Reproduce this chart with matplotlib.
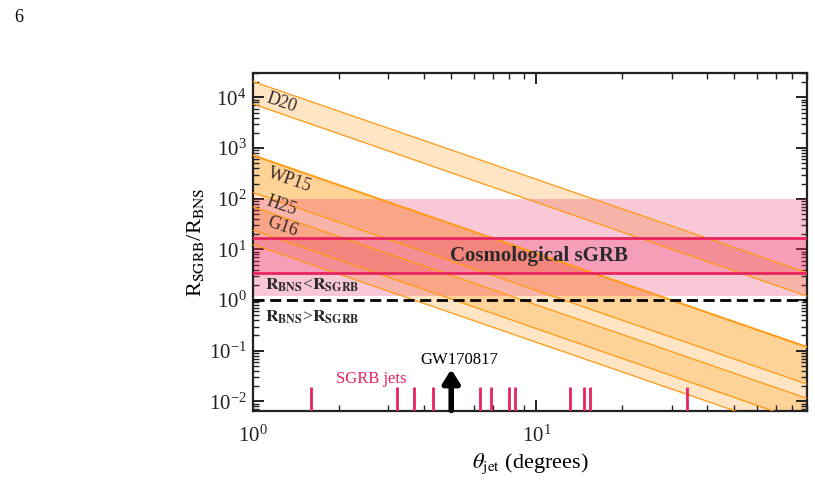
import numpy as np
import matplotlib
matplotlib.use("Agg")
import matplotlib.pyplot as plt
from matplotlib.ticker import LogLocator, NullFormatter, FixedLocator

plt.rcParams['font.family'] = ['Liberation Serif', 'DejaVu Serif']
plt.rcParams['mathtext.fontset'] = 'stix'
plt.rcParams['axes.unicode_minus'] = False

# band edges read at theta = 1 deg and theta = 90 deg
theta_ends = [1.0, 90.0]
d20_hi = [2.05e4, 3.5]
d20_lo = [7.4e3, 1.2]
wp15_hi = [718, 0.119]
wp15_lo = [132, 0.022]
h25_hi = [132, 0.022]
h25_lo = [24, 0.0038]
g16_hi = [69, 0.0115]
g16_lo = [12.5, 0.0021]

band_names = ["D20", "WP15", "H25", "G16"]
band_label_x = [1.26, 1.34, 1.26, 1.27]
band_label_y = [7.8e3, 231, 72, 28]

# cosmological sGRB rate ratio
sgrb_outer = [1.2, 100]
sgrb_inner = [3.4, 17]

# SGRB jet opening angles (degrees)
jet_angles = [1.60, 3.22, 3.70, 4.30, 6.30, 6.92, 8.01, 8.41, 13.1, 14.7, 15.5, 33.9]
gw_angle = 5.0

y_major = [1e-2, 1e-1, 1e0, 1e1, 1e2, 1e3, 1e4]

orange = '#ff9a14'
crimson = '#e8245f'

fig = plt.figure(figsize=(8.15, 5.0), dpi=100)
ax = fig.add_axes([0.3108, 0.179, 0.679, 0.6744])

ax.fill_between(theta_ends, d20_lo, d20_hi, color=orange, alpha=0.25, lw=0, zorder=1)
ax.fill_between(theta_ends, wp15_lo, wp15_hi, color=orange, alpha=0.44, lw=0, zorder=1)
ax.fill_between(theta_ends, h25_lo, h25_hi, color=orange, alpha=0.25, lw=0, zorder=1)
ax.fill_between(theta_ends, g16_lo, g16_hi, color=orange, alpha=0.25, lw=0, zorder=1)
for edge in [d20_hi, d20_lo, wp15_lo, h25_lo, g16_hi, g16_lo]:
    ax.plot(theta_ends, edge, color=orange, lw=0.9, zorder=3)
ax.plot(theta_ends, wp15_hi, color=orange, lw=1.4, zorder=3)

ax.axhspan(sgrb_outer[0], sgrb_outer[1], color=crimson, alpha=0.25, lw=0, zorder=2)
ax.axhspan(sgrb_inner[0], sgrb_inner[1], color=crimson, alpha=0.25, lw=0, zorder=2)
for v in sgrb_inner:
    ax.axhline(v, color=crimson, lw=2, zorder=4)

ax.axhline(1.0, color='k', lw=2, ls=(0, (4, 2)), zorder=4)

for name, tx, ty in zip(band_names, band_label_x, band_label_y):
    ax.text(tx, ty, name, fontsize=13, color='#3a2a2a', rotation=-19,
            ha='center', va='center', rotation_mode='anchor', zorder=5)

ax.text(10.2, 7.5, 'Cosmological sGRB', fontsize=15, fontweight='bold',
        color='#2a2a2a', ha='center', va='center', zorder=5)
ax.text(1.10, 2.0, r'$\mathbf{R_{BNS}}$<$\mathbf{R_{SGRB}}$', fontsize=12.5,
        color='#2a2a2a', ha='left', va='center', zorder=5)
ax.text(1.10, 0.46, r'$\mathbf{R_{BNS}}$>$\mathbf{R_{SGRB}}$', fontsize=12.5,
        color='#2a2a2a', ha='left', va='center', zorder=5)

ylo, yhi = 0.0066, 3.0e4
ax.vlines(jet_angles, ylo, 0.019, color=crimson, lw=2, zorder=5)
ax.text(2.60, 0.0275, 'SGRB jets', fontsize=12, color=crimson,
        ha='center', va='center')

ax.annotate('', xy=(gw_angle, 0.043), xytext=(gw_angle, ylo),
            arrowprops=dict(arrowstyle='-|>,head_width=0.5,head_length=0.8',
                            color='k', lw=4, shrinkA=0, shrinkB=0), zorder=6)
ax.text(5.36, 0.066, 'GW170817', fontsize=12, color='k', ha='center', va='center')

ax.set_xscale('log')
ax.set_yscale('log')
ax.set_xlim(1, 90)
ax.set_ylim(ylo, yhi)

ax.yaxis.set_major_locator(FixedLocator(y_major))
ax.yaxis.set_minor_locator(LogLocator(base=10, subs=np.arange(2, 10), numticks=20))
ax.yaxis.set_minor_formatter(NullFormatter())
ax.xaxis.set_minor_formatter(NullFormatter())

ax.tick_params(which='both', direction='in', top=True, right=True, colors='#222222')
ax.tick_params(which='major', length=8, width=1.4, labelsize=15)
ax.tick_params(axis='x', which='major', pad=11)
ax.tick_params(axis='y', which='major', pad=5)
ax.tick_params(which='minor', length=4, width=1.0)
for sp in ax.spines.values():
    sp.set_linewidth(1.6)
    sp.set_color('#222222')

ax.set_xlabel(r'$\theta_{\rm jet}$ (degrees)', fontsize=16, labelpad=3)
ax.set_ylabel(r'R$_{\rm SGRB}$/R$_{\rm BNS}$', fontsize=16, labelpad=2)

fig.text(0.018, 0.955, '6', fontsize=13)

fig.savefig('out.png', dpi=100)
